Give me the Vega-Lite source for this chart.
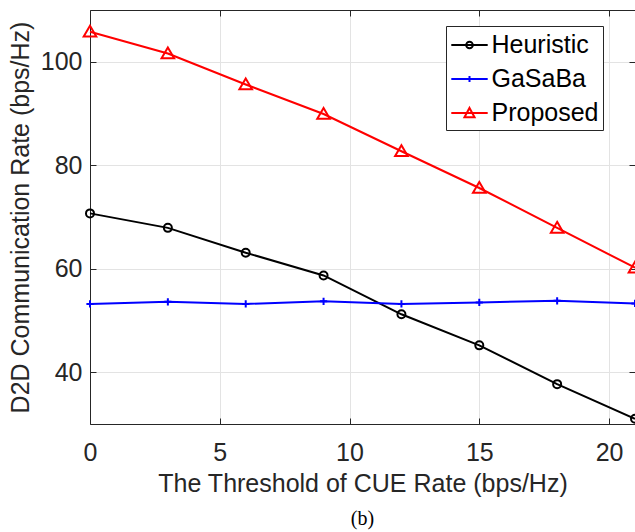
{
  "$schema": "https://vega.github.io/schema/vega-lite/v6.json",
  "width": 545,
  "height": 414,
  "autosize": {"type": "none"},
  "padding": {"left": 90, "top": 10, "right": 0, "bottom": 108},
  "background": "white",
  "title": {"text": "(b)", "orient": "bottom", "anchor": "middle", "font": "Liberation Serif", "fontSize": 20, "fontWeight": "normal", "color": "black", "offset": 13},
  "config": {
    "font": "Liberation Sans",
    "view": {"stroke": null},
    "legend": {
      "orient": "none", "legendX": 356, "legendY": 16,
      "labelFontSize": 25, "labelColor": "black", "labelFont": "Liberation Sans",
      "symbolSize": 784, "symbolStrokeWidth": 2, "symbolOpacity": 1,
      "padding": 4, "rowPadding": 6, "symbolOffset": 4.5, "labelOffset": 7,
      "strokeColor": "#262626", "fillColor": "white", "cornerRadius": 0,
      "labelLimit": 300
    }
  },
  "data": {
    "values": [
      {"x": 0, "y": 70.7, "s": "Heuristic"},
      {"x": 3, "y": 67.9, "s": "Heuristic"},
      {"x": 6, "y": 63.1, "s": "Heuristic"},
      {"x": 9, "y": 58.7, "s": "Heuristic"},
      {"x": 12, "y": 51.2, "s": "Heuristic"},
      {"x": 15, "y": 45.2, "s": "Heuristic"},
      {"x": 18, "y": 37.7, "s": "Heuristic"},
      {"x": 21, "y": 31.0, "s": "Heuristic"},
      {"x": 0, "y": 53.2, "s": "GaSaBa"},
      {"x": 3, "y": 53.6, "s": "GaSaBa"},
      {"x": 6, "y": 53.2, "s": "GaSaBa"},
      {"x": 9, "y": 53.7, "s": "GaSaBa"},
      {"x": 12, "y": 53.2, "s": "GaSaBa"},
      {"x": 15, "y": 53.5, "s": "GaSaBa"},
      {"x": 18, "y": 53.8, "s": "GaSaBa"},
      {"x": 21, "y": 53.3, "s": "GaSaBa"},
      {"x": 0, "y": 105.8, "s": "Proposed"},
      {"x": 3, "y": 101.6, "s": "Proposed"},
      {"x": 6, "y": 95.6, "s": "Proposed"},
      {"x": 9, "y": 89.9, "s": "Proposed"},
      {"x": 12, "y": 82.7, "s": "Proposed"},
      {"x": 15, "y": 75.6, "s": "Proposed"},
      {"x": 18, "y": 67.9, "s": "Proposed"},
      {"x": 21, "y": 60.2, "s": "Proposed"}
    ]
  },
  "layer": [
    {
      "mark": {"type": "line", "strokeWidth": 2},
      "encoding": {
        "x": {
          "field": "x", "type": "quantitative",
          "scale": {"domain": [0, 21], "nice": false, "zero": false},
          "axis": {
            "values": [0, 5, 10, 15, 20], "grid": true, "gridColor": "#e3e3e3",
            "domainColor": "#262626", "tickColor": "#262626", "tickSize": -6,
            "labelFontSize": 25, "labelColor": "#262626", "labelPadding": 22, "labelFlush": false,
            "title": "The Threshold of CUE Rate (bps/Hz)", "titleFontSize": 25,
            "titleFontWeight": "normal", "titleColor": "#262626", "titlePadding": 6
          }
        },
        "y": {
          "field": "y", "type": "quantitative",
          "scale": {"domain": [30, 110], "nice": false, "zero": false},
          "axis": {
            "values": [40, 60, 80, 100], "grid": true, "gridColor": "#e3e3e3",
            "domainColor": "#262626", "tickColor": "#262626", "tickSize": -6,
            "labelFontSize": 25, "labelColor": "#262626", "labelPadding": 14, "labelFlush": false,
            "title": "D2D Communication Rate (bps/Hz)", "titleFontSize": 25,
            "titleFontWeight": "normal", "titleColor": "#262626", "titlePadding": 7
          }
        },
        "color": {
          "field": "s", "type": "nominal",
          "scale": {"domain": ["Heuristic", "GaSaBa", "Proposed"], "range": ["#000000", "#0000ff", "#ff0000"]},
          "legend": null
        }
      }
    },
    {
      "mark": {"type": "point", "filled": false, "strokeWidth": 2, "size": 144, "opacity": 1},
      "encoding": {
        "x": {"field": "x", "type": "quantitative", "axis": null},
        "y": {"field": "y", "type": "quantitative", "axis": null},
        "color": {
          "field": "s", "type": "nominal",
          "scale": {"domain": ["Heuristic", "GaSaBa", "Proposed"], "range": ["#000000", "#0000ff", "#ff0000"]},
          "legend": null
        },
        "shape": {
          "field": "s", "type": "nominal",
          "scale": {
            "domain": ["Heuristic", "GaSaBa", "Proposed"],
            "range": [
              "M0.667,0A0.667,0.667 0 1,1 -0.667,0A0.667,0.667 0 1,1 0.667,0",
              "M-0.6,0H0.6M0,-0.6V0.6",
              "M0,-1L1.05,0.8L-1.05,0.8Z"
            ]
          },
          "legend": null
        }
      }
    },
    {
      "mark": {"type": "point", "filled": false, "strokeWidth": 2, "size": 784, "opacity": 0},
      "encoding": {
        "x": {
          "field": "x", "type": "quantitative",
          "axis": {"orient": "top", "labels": false, "title": null, "grid": false, "values": [0, 5, 10, 15, 20], "tickSize": -6, "domainColor": "#262626", "tickColor": "#262626"}
        },
        "y": {
          "field": "y", "type": "quantitative",
          "axis": {"orient": "right", "labels": false, "title": null, "grid": false, "values": [40, 60, 80, 100], "tickSize": -6, "domainColor": "#262626", "tickColor": "#262626"}
        },
        "color": {
          "field": "s", "type": "nominal",
          "scale": {"domain": ["Heuristic", "GaSaBa", "Proposed"], "range": ["#000000", "#0000ff", "#ff0000"]},
          "legend": {"title": null}
        },
        "shape": {
          "field": "s", "type": "nominal",
          "scale": {
            "domain": ["Heuristic", "GaSaBa", "Proposed"],
            "range": [
              "M-1.3,0H1.3M0.236,0A0.236,0.236 0 1,1 -0.236,0A0.236,0.236 0 1,1 0.236,0",
              "M-1.3,0H1.3M0,-0.21V0.21",
              "M-1.3,0H1.3M0,-0.36L0.36,0.3L-0.36,0.3Z"
            ]
          },
          "legend": {"title": null}
        }
      }
    }
  ],
  "resolve": {
    "scale": {"shape": "independent", "color": "independent"},
    "axis": {"x": "independent", "y": "independent"}
  }
}
